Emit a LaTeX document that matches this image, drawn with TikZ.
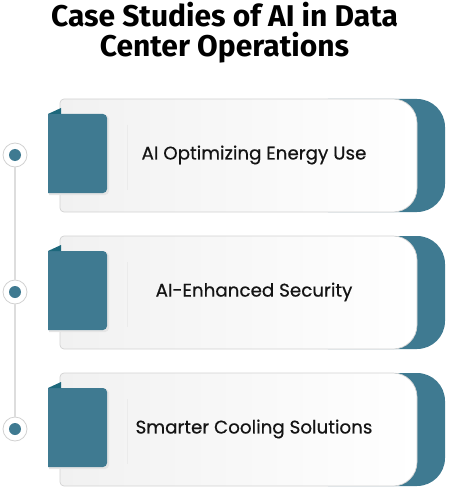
\documentclass[tikz,border=0pt]{standalone}
\usepackage{fontspec}
\setmainfont{Poppins}
\newfontfamily\bodyfont[FakeBold=0.5]{Poppins}
\newfontfamily\titlefont{Fira Sans}
\definecolor{tealmain}{HTML}{3F7A91}
\definecolor{tealdark}{HTML}{1D687C}
\definecolor{cardline}{HTML}{D2D2D2}
\definecolor{cardleft}{HTML}{F1F1F1}
\definecolor{vline}{HTML}{DDDDDD}
\tikzset{
  titlestyle/.style={font=\titlefont\bfseries\fontsize{30}{30}\selectfont, align=center, text=black, inner sep=0pt},
  labelstyle/.style={font=\bodyfont\fontsize{18.3}{20}\selectfont, text=black!92, inner sep=0pt},
  dotring/.style={circle, minimum size=24pt, inner sep=0pt, fill=white, draw=black!18, line width=0.8pt},
  dotin/.style={circle, minimum size=12pt, inner sep=0pt, fill=tealmain},
  vlinestyle/.style={draw=vline, line width=1.5pt},
  dividerstyle/.style={draw=black!8, line width=1pt},
}
\begin{document}
\begin{tikzpicture}[x=1pt,y=-1pt]
\useasboundingbox (0,0) rectangle (449,489);
\node[titlestyle] (title) at (224.5,33) {Case Studies of AI in Data\\Center Operations};
\foreach \i/\y/\txt in {1/99/AI Optimizing Energy Use, 2/236/AI-Enhanced Security, 3/373/Smarter Cooling Solutions}{
  % teal back
  \fill[tealmain, rounded corners=28pt] (300,\y) rectangle (445,\y+113);
  % white card
  \draw[cardline, line width=0.7pt, left color=cardleft, right color=white]
    (64,\y) -- (393,\y) arc[start angle=270, end angle=360, radius=24]
    -- (417,\y+89) arc[start angle=0, end angle=90, radius=24]
    -- (64,\y+113) arc[start angle=90, end angle=180, radius=4]
    -- (60,\y+4) arc[start angle=180, end angle=270, radius=4] -- cycle;
  % tab shadow
  \fill[black!10] (49,\y+16) -- (105,\y+16) arc[start angle=270, end angle=360, radius=4]
    -- (109,\y+92) arc[start angle=0, end angle=90, radius=4] -- (49,\y+96) -- cycle;
  % tab
  \fill[tealmain] (48,\y+15) -- (103,\y+15) arc[start angle=270, end angle=360, radius=4]
    -- (107,\y+90) arc[start angle=0, end angle=90, radius=4] -- (48,\y+94) -- cycle;
  \fill[tealdark] (48,\y+15) -- (61,\y+9) -- (61,\y+15) -- cycle;
  % divider
  \draw[dividerstyle] (127,\y+26) -- (127,\y+91);
  % text
  \node[labelstyle] (t\i) at (254,\y+56) {\txt};
  % timeline dot
  \node[dotring] (c\i) at (15,\y+56) {};
  \node[dotin] (d\i) at (c\i) {};
}
\draw[vlinestyle] (c1) -- (c2);
\draw[vlinestyle] (c2) -- (c3);
\end{tikzpicture}
\end{document}
